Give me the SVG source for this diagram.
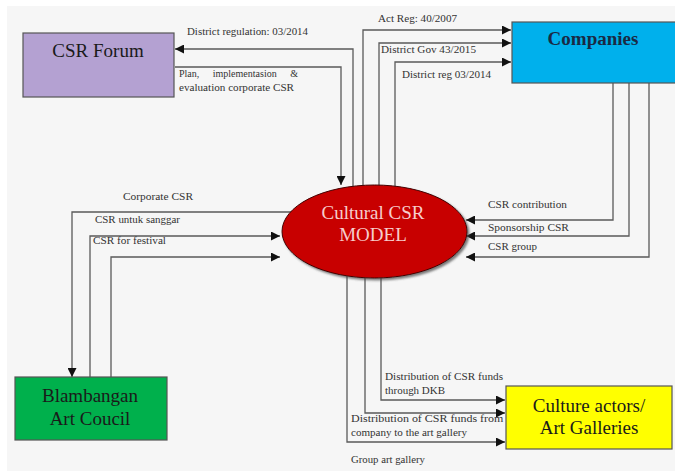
<svg xmlns="http://www.w3.org/2000/svg" width="675" height="471" viewBox="0 0 675 471">
<style>
.ln{fill:none;stroke:#5a5a5a;stroke-width:1.3}
.lbl{font-family:'Liberation Serif','Times New Roman','DejaVu Serif',serif;font-size:10px;fill:#333}
.box{stroke:#555;stroke-width:1.2}
.bt{font-family:'Liberation Serif','Times New Roman','DejaVu Serif',serif;font-size:19px;text-anchor:middle;fill:#1a1a1a}
.wt{fill:#f6cccc}
</style>
<defs>
<marker id="ah" viewBox="0 0 10 10" refX="10" refY="5" markerWidth="10" markerHeight="9" markerUnits="userSpaceOnUse" orient="auto">
<path d="M0,0 L10,5 L0,10 z" fill="#111"/>
</marker>
<filter id="sh" x="-10%" y="-10%" width="130%" height="130%">
<feDropShadow dx="2" dy="2" stdDeviation="1.2" flood-color="#444" flood-opacity="0.7"/>
</filter>
</defs>
<rect x="0" y="0" width="675" height="471" fill="#fff"/>
<rect x="7" y="6" width="668" height="465" fill="#f6f6f6"/>

<g id="connectors">
<path class="ln" d="M353,200 V49 H175" marker-end="url(#ah)"/>
<path class="ln" d="M175,67 H341 V185" marker-end="url(#ah)"/>
<path class="ln" d="M363,200 V30 H511" marker-end="url(#ah)"/>
<path class="ln" d="M379,200 V43 H511" marker-end="url(#ah)"/>
<path class="ln" d="M395,200 V62 H511" marker-end="url(#ah)"/>
<path class="ln" d="M613,83 V220 H466" marker-end="url(#ah)"/>
<path class="ln" d="M629,83 V236 H466" marker-end="url(#ah)"/>
<path class="ln" d="M649,83 V257 H466" marker-end="url(#ah)"/>
<path class="ln" d="M300,212 H72 V377" marker-end="url(#ah)"/>
<path class="ln" d="M90,377 V236 H280" marker-end="url(#ah)"/>
<path class="ln" d="M111,377 V257 H280" marker-end="url(#ah)"/>
<path class="ln" d="M381,260 V400 H505" marker-end="url(#ah)"/>
<path class="ln" d="M365,260 V413 H505" marker-end="url(#ah)"/>
<path class="ln" d="M347,260 V442 H505" marker-end="url(#ah)"/>
</g>

<g id="labels">
<text class="lbl" x="187" y="35" textLength="121" lengthAdjust="spacingAndGlyphs">District regulation: 03/2014</text>
<text class="lbl" x="179" y="77" word-spacing="11">Plan, implementasion &amp;</text>
<text class="lbl" x="179" y="91" textLength="115" lengthAdjust="spacingAndGlyphs">evaluation corporate CSR</text>
<text class="lbl" x="378" y="22" textLength="79" lengthAdjust="spacingAndGlyphs">Act Reg: 40/2007</text>
<text class="lbl" x="381" y="53" textLength="95" lengthAdjust="spacingAndGlyphs">District Gov 43/2015</text>
<text class="lbl" x="402" y="78" textLength="89" lengthAdjust="spacingAndGlyphs">District reg 03/2014</text>
<text class="lbl" x="488" y="208" textLength="79" lengthAdjust="spacingAndGlyphs">CSR contribution</text>
<text class="lbl" x="488" y="231" textLength="81" lengthAdjust="spacingAndGlyphs">Sponsorship CSR</text>
<text class="lbl" x="488" y="250" textLength="49" lengthAdjust="spacingAndGlyphs">CSR group</text>
<text class="lbl" x="123" y="200" textLength="70" lengthAdjust="spacingAndGlyphs">Corporate  CSR</text>
<text class="lbl" x="95" y="223" textLength="85" lengthAdjust="spacingAndGlyphs">CSR untuk sanggar</text>
<text class="lbl" x="93" y="244" textLength="73" lengthAdjust="spacingAndGlyphs">CSR for festival</text>
<text class="lbl" x="385" y="380" textLength="118" lengthAdjust="spacingAndGlyphs">Distribution of CSR funds</text>
<text class="lbl" x="385" y="394" textLength="60" lengthAdjust="spacingAndGlyphs">through DKB</text>
<text class="lbl" x="351" y="422" textLength="170" lengthAdjust="spacingAndGlyphs">Distribution of CSR funds from the</text>
<text class="lbl" x="351" y="436" textLength="116" lengthAdjust="spacingAndGlyphs">company to the art gallery</text>
<text class="lbl" x="351" y="463" textLength="74" lengthAdjust="spacingAndGlyphs">Group art gallery</text>
</g>

<g id="csr-forum">
<rect class="box" x="23" y="33" width="151" height="64" fill="#b4a1d2"/>
<text class="bt" x="98" y="57">CSR Forum</text>
</g>

<g id="companies">
<rect class="box" x="512" y="22" width="166" height="61" fill="#00b0ec"/>
<text class="bt" x="593" y="45" font-weight="bold" fill="#1a2a44" style="fill:#1a2a44">Companies</text>
</g>

<g id="cultural-csr-model">
<ellipse cx="374.5" cy="231.5" rx="92.5" ry="46.5" fill="#c80000" stroke="#400" stroke-width="1" filter="url(#sh)"/>
<text class="bt wt" x="373" y="219">Cultural CSR</text>
<text class="bt wt" x="373" y="241">MODEL</text>
</g>

<g id="blambangan">
<rect class="box" x="15" y="377" width="152" height="63" fill="#00b04c"/>
<text class="bt" x="90" y="402">Blambangan</text>
<text class="bt" x="90" y="425">Art Coucil</text>
</g>

<g id="culture-actors">
<rect class="box" x="506" y="386" width="166" height="63" fill="#ffff00"/>
<text class="bt" x="589" y="412" font-size="20">Culture actors/</text>
<text class="bt" x="589" y="434" font-size="20">Art Galleries</text>
</g>
</svg>
